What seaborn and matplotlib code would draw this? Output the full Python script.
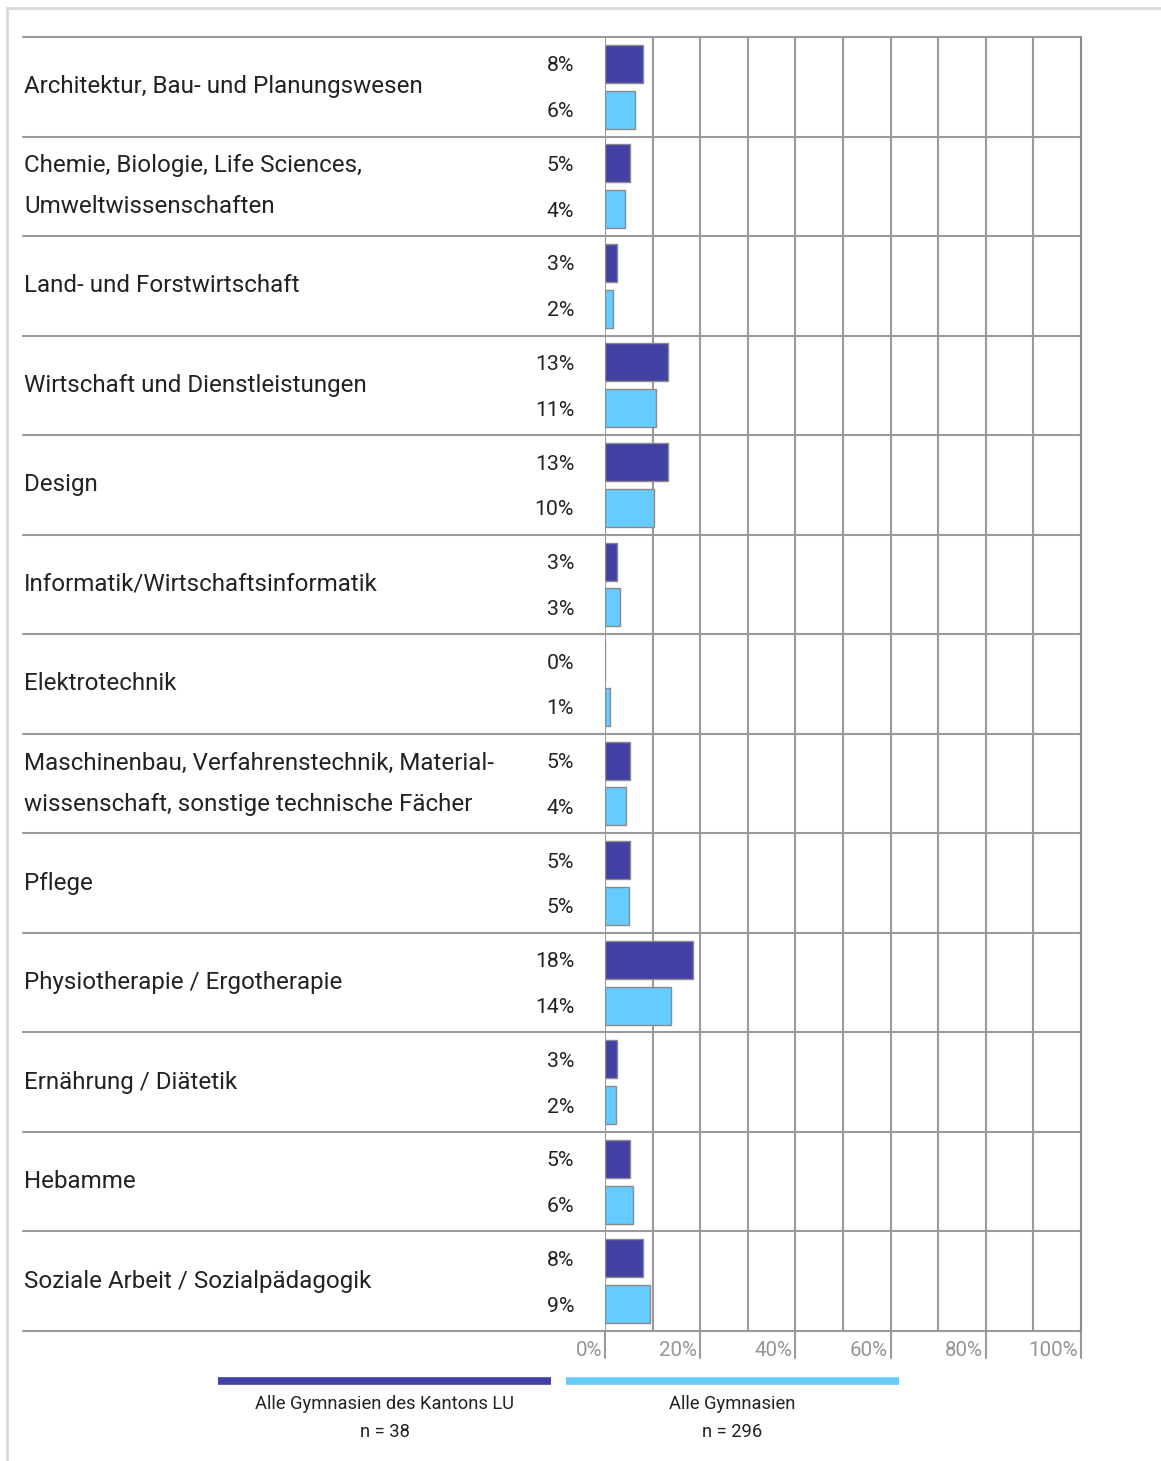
import matplotlib
matplotlib.use("Agg")
import matplotlib.pyplot as plt
import matplotlib.transforms as mtransforms
from matplotlib.lines import Line2D
import seaborn as sns
import pandas as pd

categories = [
    "Architektur, Bau- und Planungswesen",
    "Chemie, Biologie, Life Sciences,\nUmweltwissenschaften",
    "Land- und Forstwirtschaft",
    "Wirtschaft und Dienstleistungen",
    "Design",
    "Informatik/Wirtschaftsinformatik",
    "Elektrotechnik",
    "Maschinenbau, Verfahrenstechnik, Material-\nwissenschaft, sonstige technische Fächer",
    "Pflege",
    "Physiotherapie / Ergotherapie",
    "Ernährung / Diätetik",
    "Hebamme",
    "Soziale Arbeit / Sozialpädagogik",
]
series_names = ["Alle Gymnasien des Kantons LU", "Alle Gymnasien"]
series_n = ["n = 38", "n = 296"]
lu_values = [7.9, 5.3, 2.6, 13.2, 13.2, 2.6, 0.0, 5.3, 5.3, 18.4, 2.6, 5.3, 7.9]
all_values = [6.4, 4.2, 1.7, 10.8, 10.3, 3.2, 1.0, 4.4, 5.1, 13.9, 2.4, 5.9, 9.5]
lu_labels = ["8%", "5%", "3%", "13%", "13%", "3%", "0%", "5%", "5%", "18%", "3%", "5%", "8%"]
all_labels = ["6%", "4%", "2%", "11%", "10%", "3%", "1%", "4%", "5%", "14%", "2%", "6%", "9%"]
tick_values = [0, 20, 40, 60, 80, 100]
tick_labels = ["0%", "20%", "40%", "60%", "80%", "100%"]
colors = ["#4141A3", "#66CCFF"]

rows = []
for c, a, b in zip(categories, lu_values, all_values):
    rows.append({"cat": c, "series": series_names[0], "value": a})
    rows.append({"cat": c, "series": series_names[1], "value": b})
df = pd.DataFrame(rows)

sns.set_theme(style="white")
plt.rcParams["font.family"] = ["Roboto", "DejaVu Sans"]

W, H = 1161, 1461
fig = plt.figure(figsize=(W / 100, H / 100), dpi=100)
L, R, T, B = 605, 1081, 37, 1331
ax = fig.add_axes([L / W, 1 - B / H, (R - L) / W, (B - T) / H])

sns.barplot(data=df, x="value", y="cat", hue="series", order=categories,
            hue_order=series_names, palette=colors, orient="h", ax=ax,
            width=0.92, gap=0.17, edgecolor="#8a8a8a", linewidth=1.0,
            legend=False, saturation=1)

ax.set_xlim(0, 100)
ax.set_ylim(len(categories) - 0.5, -0.5)
ax.set_xlabel("")
ax.set_ylabel("")
ax.set_yticks([])
ax.set_xticks([])
for s in ["top", "left", "bottom"]:
    ax.spines[s].set_visible(False)
ax.spines["right"].set_color("#8a8a8a")
ax.spines["right"].set_linewidth(1.5)

grid_c = "#9a9a9a"
for x in range(0, 100, 10):
    ax.axvline(x, color=grid_c, lw=1.5, zorder=0)

# row separators extending into label area
trans = mtransforms.blended_transform_factory(ax.transAxes, ax.transData)
xleft = (23 - L) / (R - L)
for i in range(len(categories) + 1):
    ax.plot([xleft, 1], [i - 0.5, i - 0.5], transform=trans, color=grid_c,
            lw=1.5, clip_on=False, zorder=1)

# ticks below axis
tick_len = 27 / (B - T) * len(categories)
for v, lab in zip(tick_values, tick_labels):
    ax.plot([v, v], [len(categories) - 0.5, len(categories) - 0.5 + tick_len],
            color=grid_c, lw=1.5, clip_on=False)
    ax.annotate(lab, xy=(v, len(categories) - 0.5), xytext=(-3, -20),
                textcoords="offset pixels", ha="right", va="center",
                fontsize=14.8, color="#959595", annotation_clip=False)

text_c = "#222222"
for i, c in enumerate(categories):
    ax.annotate(c, xy=(xleft, i), xycoords=trans, xytext=(1, 0),
                textcoords="offset pixels", ha="left", va="center",
                fontsize=17.4, color=text_c, linespacing=2.0,
                annotation_clip=False)
    for lab, off in ((lu_labels[i], -0.23), (all_labels[i], 0.23)):
        ax.annotate(lab, xy=(0, i + off), xytext=(-31, -2),
                    textcoords="offset pixels", ha="right", va="center",
                    fontsize=15.3, color=text_c, annotation_clip=False)

# legend
legend_spans = [(218, 551), (566, 899)]
for (x0, x1), col, name, n in zip(legend_spans, colors, series_names, series_n):
    fig.add_artist(Line2D([x0 / W, x1 / W], [1 - 1381 / H] * 2, color=col,
                          lw=5.5, solid_capstyle="butt"))
    xc = (x0 + x1) / 2 / W
    fig.text(xc, 1 - 1404 / H, name, ha="center", va="center", fontsize=13.2,
             color=text_c)
    fig.text(xc, 1 - 1432 / H, n, ha="center", va="center", fontsize=13.2,
             color=text_c)

# outer frame
frame_c = "#d9d9d9"
fig.add_artist(Line2D([7 / W, 1], [1 - 8 / H] * 2, color=frame_c, lw=2))
fig.add_artist(Line2D([7 / W] * 2, [0, 1 - 8 / H], color=frame_c, lw=2))

fig.savefig("out.png", dpi=100)
